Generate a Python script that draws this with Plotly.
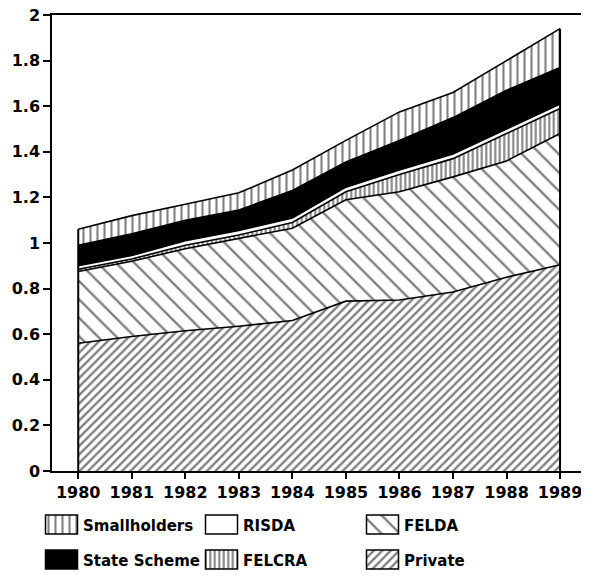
import plotly.graph_objects as go

years = [1980, 1981, 1982, 1983, 1984, 1985, 1986, 1987, 1988, 1989]

private = [0.56, 0.59, 0.615, 0.635, 0.66, 0.745, 0.75, 0.785, 0.85, 0.905]
felda = [0.315, 0.33, 0.36, 0.385, 0.405, 0.445, 0.475, 0.505, 0.51, 0.575]
felcra = [0.01, 0.01, 0.015, 0.015, 0.025, 0.035, 0.075, 0.08, 0.12, 0.11]
risda = [0.015, 0.015, 0.02, 0.02, 0.02, 0.02, 0.02, 0.02, 0.02, 0.02]
state_scheme = [0.09, 0.095, 0.09, 0.09, 0.12, 0.11, 0.13, 0.16, 0.17, 0.16]
smallholders = [0.07, 0.08, 0.07, 0.075, 0.09, 0.095, 0.125, 0.11, 0.13, 0.17]

y_ticks = [0, 0.2, 0.4, 0.6, 0.8, 1, 1.2, 1.4, 1.6, 1.8, 2]
y_tick_labels = ["0", "0.2", "0.4", "0.6", "0.8", "1", "1.2", "1.4", "1.6", "1.8", "2"]

TICK_FONT = dict(family="DejaVu Sans", size=16, color="black", weight="bold")
LEG_FONT = dict(family="DejaVu Sans", size=15, color="black", weight="bold")

# style per series: (pattern shape, size, solidity, fill colour)
styles = {
    "Private": ("/", 6, 0.4, "white"),
    "FELDA": ("\\", 13, 0.18, "white"),
    "FELCRA": ("|", 4.5, 0.45, "white"),
    "RISDA": ("", 8, 0.3, "white"),
    "State Scheme": ("", 8, 0.3, "black"),
    "Smallholders": ("|", 7, 0.3, "white"),
}

series = [
    ("Private", private),
    ("FELDA", felda),
    ("FELCRA", felcra),
    ("RISDA", risda),
    ("State Scheme", state_scheme),
    ("Smallholders", smallholders),
]

fig = go.Figure()
for name, vals in series:
    shp, sz, sol, fc = styles[name]
    kw = {}
    if shp:
        kw["fillpattern"] = dict(shape=shp, size=sz, solidity=sol,
                                 fgcolor="black", bgcolor="white")
    fig.add_trace(go.Scatter(
        x=years, y=vals, name=name, mode="lines", stackgroup="one",
        line=dict(color="black", width=1.6), fillcolor=fc,
        showlegend=False, hoverinfo="skip", xaxis="x", yaxis="y", **kw))

totals = [sum(v) for v in zip(*[s[1] for s in series])]
for i in (0, len(years) - 1):
    fig.add_shape(type="line", xref="x", yref="y", x0=years[i], x1=years[i],
                  y0=0, y1=totals[i], line=dict(color="black", width=2))

# custom legend (3 columns x 2 rows)
legend_order = ["Smallholders", "RISDA", "FELDA", "State Scheme", "FELCRA", "Private"]
col_x = [61.5, 221.5, 382.5]
row_y = [515, 550]
box_w, box_h = 32, 19
for k, name in enumerate(legend_order):
    shp, sz, sol, fc = styles[name]
    cx = col_x[k % 3]
    ry = row_y[k // 3]
    marker = dict(color=fc, line=dict(color="black", width=1.5))
    if shp:
        marker["pattern"] = dict(shape=shp, size=sz, solidity=sol,
                                 fgcolor="black", bgcolor="white")
    fig.add_trace(go.Bar(x=[cx], y=[box_h], base=[ry], width=box_w,
                         marker=marker, xaxis="x2", yaxis="y2",
                         showlegend=False, hoverinfo="skip"))
    fig.add_annotation(x=cx + box_w / 2 + 3, y=ry + box_h / 2 + 1, xref="x2", yref="y2",
                       text=name, showarrow=False, xanchor="left", yanchor="middle",
                       font=LEG_FONT)

fig.update_layout(
    width=581, height=567,
    margin=dict(l=2, r=7, t=7, b=2, autoexpand=False),
    paper_bgcolor="white", plot_bgcolor="rgba(0,0,0,0)",
    showlegend=False,
    font=TICK_FONT,
    barmode="overlay",
    xaxis=dict(domain=[42 / 572, 1.0], range=[1979.51, 1989.41],
               tickmode="array", tickvals=years, ticktext=[str(y) for y in years],
               ticks="outside", ticklen=6, tickwidth=1.5, tickcolor="black",
               showline=True, linecolor="black", linewidth=1.5, mirror=True,
               showgrid=False, zeroline=False, tickfont=TICK_FONT, anchor="y",
               ticklabeloverflow="allow"),
    yaxis=dict(domain=[102 / 558, 1.0], range=[0, 2],
               tickmode="array", tickvals=y_ticks, ticktext=y_tick_labels,
               ticks="outside", ticklen=7, tickwidth=1.5, tickcolor="black",
               showline=True, linecolor="black", linewidth=1.5, mirror=True,
               showgrid=False, zeroline=False, tickfont=TICK_FONT, anchor="x",
               ticklabeloverflow="allow"),
    xaxis2=dict(domain=[0, 1], range=[10, 582], visible=False, anchor="y2"),
    yaxis2=dict(domain=[0, 1], range=[573, 15], visible=False, anchor="x2"),
)

fig.write_html("out.html")
